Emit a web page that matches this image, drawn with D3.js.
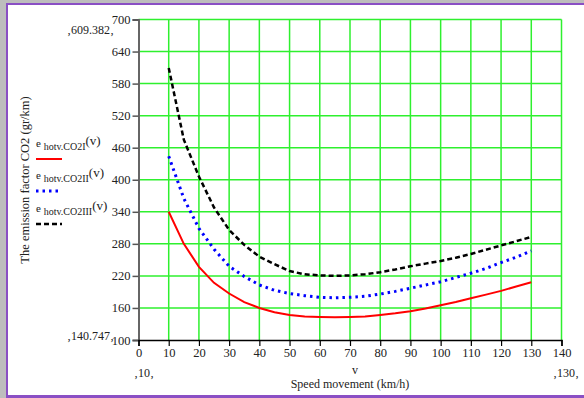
<!DOCTYPE html>
<html><head><meta charset="utf-8">
<script src="https://cdn.jsdelivr.net/npm/d3@7"></script>
<style>
html,body{margin:0;padding:0;background:#fff;}
svg{display:block;}
text{font-family:"Liberation Serif","Times New Roman",serif;fill:#222;}
</style></head>
<body>
<script>
// ---- data ----
const speeds = [10,15,20,25,30,35,40,45,50,55,60,65,70,75,80,85,90,95,100,105,110,115,120,125,130];
const co2I   = [340,280,237,207,187,171,160,152,147,144,143,142.5,143,144,147,150,154,159,165,171,178,185,192,200,208];
const co2II  = [444,365,309,270,238,219,203,193,187,183,180,179,180,182,186,191,197,203,209,217,225,234,245,255,267];
const co2III = [609.4,475,406,348,306,278,256,242,229,223,221,220,221,223,227,232,238,243,248,254,261,269,277,285,293];
const xTicks = [0,10,20,30,40,50,60,70,80,90,100,110,120,130,140];
const yTicks = [100,160,220,280,340,400,460,520,580,640,700];
const legendNames = ["hotv.CO2I","hotv.CO2II","hotv.CO2III"];
const markers = {ymax:"609.382", ymin:"140.747", xmin:"10", xmax:"130"};

const W=584,H=398;
const svg=d3.select("body").append("svg").attr("width",W).attr("height",H);

// window frame
svg.append("rect").attr("x",0).attr("y",0).attr("width",W).attr("height",3).attr("fill","#bdbdbd");
svg.append("rect").attr("x",0).attr("y",0).attr("width",6).attr("height",H).attr("fill","#bdbdbd");
svg.append("rect").attr("x",6).attr("y",3).attr("width",W-6).attr("height",2).attr("fill","#8a4fc4");
svg.append("rect").attr("x",6).attr("y",3).attr("width",2).attr("height",H-3).attr("fill","#8a4fc4");
svg.append("rect").attr("x",6).attr("y",H-3).attr("width",W-6).attr("height",3).attr("fill","#8a4fc4");

const x=d3.scaleLinear().domain([0,140]).range([138.5,561.5]);
const y=d3.scaleLinear().domain([100,700]).range([340,19.5]);

// grid
const grid=svg.append("g");
grid.selectAll("line.v").data(xTicks.filter(d=>d>0)).enter().append("line")
  .attr("x1",d=>x(d)).attr("x2",d=>x(d)).attr("y1",y(700)).attr("y2",y(100))
  .attr("stroke","#2ef02e").attr("stroke-width",1.5);
grid.selectAll("line.h").data(yTicks.filter(d=>d>100)).enter().append("line")
  .attr("x1",x(0)).attr("x2",x(140)).attr("y1",d=>y(d)).attr("y2",d=>y(d))
  .attr("stroke","#2ef02e").attr("stroke-width",1.5);

// axes
const yAxis=d3.axisLeft(y).tickValues(yTicks).tickSize(6).tickPadding(2).tickFormat(d3.format("d"));
const gy=svg.append("g").attr("transform",`translate(${x(0)},0)`).call(yAxis);
gy.select(".domain").attr("stroke","#666").attr("stroke-width",2);
gy.selectAll(".tick line").attr("stroke","#555").attr("stroke-width",1.5);
gy.selectAll(".tick text").attr("font-size",12.5).attr("font-family","Liberation Serif").attr("fill","#222");

const xAxis=d3.axisBottom(x).tickValues(xTicks).tickSize(6).tickPadding(2).tickFormat(d3.format("d"));
const gx=svg.append("g").attr("transform",`translate(0,${y(100)})`).call(xAxis);
gx.select(".domain").attr("stroke","#000").attr("stroke-width",1.5);
gx.selectAll(".tick line").attr("stroke","#000").attr("stroke-width",1.2);
gx.selectAll(".tick text").attr("font-size",12.5).attr("font-family","Liberation Serif").attr("fill","#222");

// series
const line=d3.line().x((d,i)=>x(speeds[i])).y(d=>y(d));
svg.append("path").datum(co2I).attr("d",line).attr("fill","none").attr("stroke","#ff0000").attr("stroke-width",2);
svg.append("path").datum(co2II).attr("d",line).attr("fill","none").attr("stroke","#0000ff").attr("stroke-width",3).attr("stroke-dasharray","2.5,4");
svg.append("path").datum(co2III).attr("d",line).attr("fill","none").attr("stroke","#000").attr("stroke-width",2.5).attr("stroke-dasharray","5,3");

// range markers
const mk=(tx,ty,t,anchor)=>svg.append("text").attr("x",tx).attr("y",ty).attr("font-size",12).attr("text-anchor",anchor).text("\u201A"+t+"\u201A");
mk(114,34,markers.ymax,"end");
mk(114,340,markers.ymin,"end");
mk(144,377,markers.xmin,"middle");
mk(566,377,markers.xmax,"middle");

// axis titles
svg.append("text").attr("x",355).attr("y",374).attr("font-size",12).attr("text-anchor","middle").text("v");
svg.append("text").attr("x",350).attr("y",388).attr("font-size",12).attr("text-anchor","middle").text("Speed movement (km/h)");
svg.append("text").attr("transform","translate(29,180) rotate(-90)").attr("font-size",12.5).attr("text-anchor","middle").text("The emission factor CO2 (gr/km)");

// legend
const lg=[{dy:0,c:"#ff0000",w:2,da:null},{dy:32,c:"#0000ff",w:3,da:"2.5,4"},{dy:65,c:"#000",w:2.5,da:"5,3"}];
lg.forEach((s,i)=>{
  const t=svg.append("text").attr("x",36).attr("y",147+s.dy).attr("font-size",11);
  t.append("tspan").text("e ");
  t.append("tspan").attr("dy",3).attr("font-size",10).text(legendNames[i]);
  t.append("tspan").attr("dy",-5).attr("font-size",13).text("(v)");
  svg.append("line").attr("x1",36).attr("x2",62).attr("y1",159+s.dy).attr("y2",159+s.dy)
    .attr("stroke",s.c).attr("stroke-width",s.w).attr("stroke-dasharray",s.da);
});
</script>
</body></html>
